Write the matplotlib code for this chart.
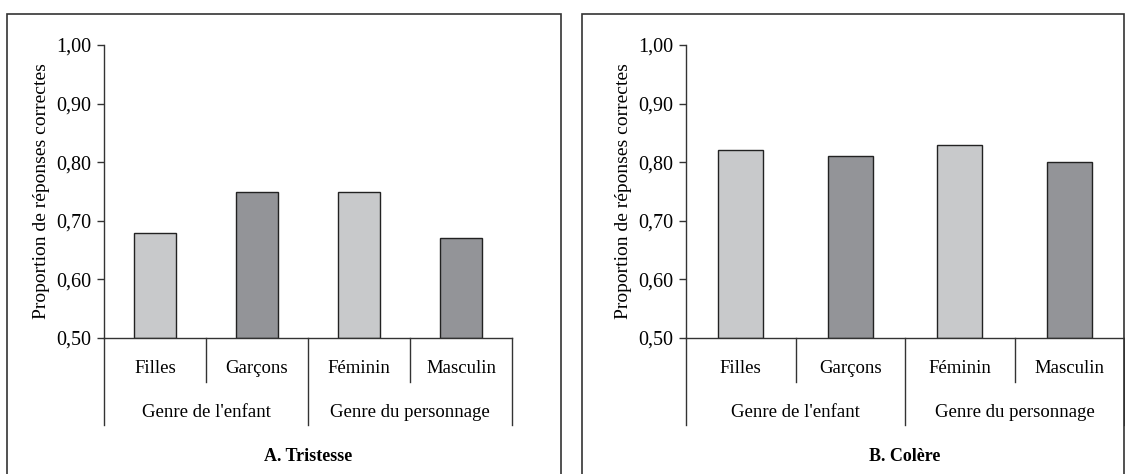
import matplotlib
matplotlib.use('Agg')
from matplotlib import pyplot as plt
from matplotlib.patches import Rectangle
import matplotlib.transforms as mtrans

plt.rcParams['font.family'] = ['Liberation Serif', 'DejaVu Serif']

categories = ['Filles', 'Garçons', 'Féminin', 'Masculin']
groups = ["Genre de l'enfant", 'Genre du personnage']
tristesse = [0.68, 0.75, 0.75, 0.67]
colere = [0.82, 0.81, 0.83, 0.80]
titles = ['A. Tristesse', 'B. Colère']
yticks = [0.50, 0.60, 0.70, 0.80, 0.90, 1.00]
ylabel = 'Proportion de réponses correctes'

light = '#c8c9cb'
dark = '#939498'
line_col = '#333333'

W, H = 1125, 474
fig = plt.figure(figsize=(W / 100, H / 100), dpi=100)

def px_axes(x0, x1, ytop, ybot):
	return fig.add_axes([x0 / W, 1 - ybot / H, (x1 - x0) / W, (ybot - ytop) / H])

# panel borders (bottom edge runs off the image)
for (bx0, bx1) in [(7, 561), (582, 1123.5)]:
	fig.patches.append(Rectangle((bx0 / W, -0.05), (bx1 - bx0) / W, 1 - 14 / H + 0.05,
		transform=fig.transFigure, fill=False, edgecolor=line_col, linewidth=1.2))

def panel(ax, vals, title, labx):
	x = range(len(categories))
	cols = [light, dark, light, dark]
	ax.bar(x, [v - 0.5 for v in vals], bottom=0.5, width=0.41, color=cols,
		edgecolor='#222222', linewidth=1.0)
	ax.set_xlim(-0.5, len(categories) - 0.5)
	ax.set_ylim(0.5, 1.0)
	ax.set_yticks(yticks)
	ax.set_yticklabels([('%.2f' % t).replace('.', ',') for t in yticks])
	ax.tick_params(axis='y', direction='out', length=5, width=1, color=line_col,
		labelsize=14.5, pad=4)
	ax.set_xticks([])
	for s in ['top', 'right']:
		ax.spines[s].set_visible(False)
	for s in ['left', 'bottom']:
		ax.spines[s].set_color(line_col)
		ax.spines[s].set_linewidth(1)
	ax.set_ylabel(ylabel, fontsize=14, va='center')
	ax.yaxis.set_label_coords(labx, 0.5)

	tr = mtrans.blended_transform_factory(ax.transData, ax.transAxes)
	# separators below the axis
	for i in range(len(categories) + 1):
		xs = i - 0.5
		yb = -0.297 if i % 2 == 0 else -0.150
		ax.plot([xs, xs], [0, yb], transform=tr, color=line_col, lw=1, clip_on=False)
	for i, c in enumerate(categories):
		ax.text(i, -0.1024, c, transform=tr, ha='center', va='center', fontsize=13.5)
	for j, g in enumerate(groups):
		ax.text(2 * j + 0.5, -0.2526, g, transform=tr, ha='center', va='center', fontsize=13.5)
	ax.text(1.5, -0.406, title, transform=tr, ha='center', va='center', fontsize=13,
		fontweight='bold')

ax1 = px_axes(104, 512, 45, 338)
panel(ax1, tristesse, titles[0], -0.152)
ax2 = px_axes(686, 1124, 45, 338)
panel(ax2, colere, titles[1], -0.142)

plt.savefig('out.png', dpi=100)
